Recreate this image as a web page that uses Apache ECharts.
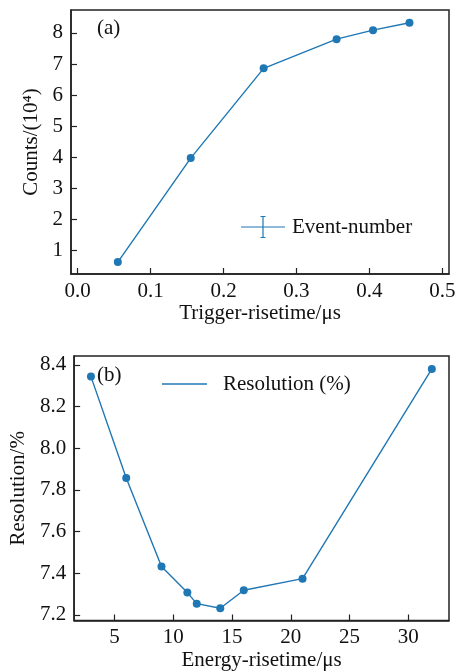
<!DOCTYPE html>
<html><head><meta charset="utf-8">
<script src="https://cdn.jsdelivr.net/npm/echarts@6/dist/echarts.min.js"></script>
<style>html,body{margin:0;padding:0;background:#fff}#c{width:460px;height:672px}</style>
</head><body><div id="c"></div>
<script>
// Panel (a)
const triggerRise = [0.055, 0.155, 0.255, 0.355, 0.405, 0.455];
const eventCounts = [0.62, 3.97, 6.86, 7.80, 8.09, 8.33];
const aXTicks = [0, 0.1, 0.2, 0.3, 0.4, 0.5];
const aYTicks = [1, 2, 3, 4, 5, 6, 7, 8];
// Panel (b)
const energyRise = [3, 6, 9, 11.2, 12, 14, 16, 21, 32];
const resolution = [8.344, 7.857, 7.432, 7.307, 7.254, 7.232, 7.318, 7.374, 8.381];
const bXTicks = [5, 10, 15, 20, 25, 30];
const bYTicks = [7.2, 7.4, 7.6, 7.8, 8.0, 8.2, 8.4];

const FONT = 'Liberation Serif';
const FS = 21;
const C = '#1f77b4';
const chart = echarts.init(document.getElementById('c'), null, {renderer: 'canvas'});
const lbl = (m, fmt) => ({fontFamily: FONT, fontSize: FS, color: '#111', margin: m, formatter: fmt});
const axLine = {show: true, onZero: false, lineStyle: {color: '#222', width: 1.5}};
const tick = (vals) => ({show: true, inside: true, length: 6, lineStyle: {color: '#222', width: 1.2}, customValues: vals});
const nameStyle = {fontFamily: FONT, fontSize: FS, color: '#111'};

chart.setOption({
  animation: false,
  grid: [
    {left: 71, top: 10, width: 378, height: 264, show: true, borderColor: '#222', borderWidth: 1.5},
    {left: 71, top: 356, width: 378, height: 265, show: true, borderColor: '#222', borderWidth: 1.5}
  ],
  xAxis: [
    {type: 'value', gridIndex: 0, min: -0.0092, max: 0.5092, axisLine: axLine, splitLine: {show: false},
     axisTick: tick(aXTicks), axisLabel: Object.assign(lbl(7, v => v.toFixed(1)), {customValues: aXTicks}),
     name: 'Trigger-risetime/μs', nameLocation: 'middle', nameGap: 28, nameTextStyle: nameStyle},
    {type: 'value', gridIndex: 1, min: 1.57, max: 33.46, axisLine: axLine, splitLine: {show: false},
     axisTick: tick(bXTicks), axisLabel: Object.assign(lbl(6, v => String(v)), {customValues: bXTicks}),
     name: 'Energy-risetime/μs', nameLocation: 'middle', nameGap: 29.5, nameTextStyle: nameStyle}
  ],
  yAxis: [
    {type: 'value', gridIndex: 0, min: 0.237, max: 8.74, axisLine: axLine, splitLine: {show: false},
     axisTick: tick(aYTicks), axisLabel: Object.assign(lbl(8, v => String(v)), {customValues: aYTicks}),
     name: 'Counts/(10⁴)', nameLocation: 'middle', nameGap: 25.5, nameTextStyle: nameStyle},
    {type: 'value', gridIndex: 1, min: 7.173, max: 8.443, axisLine: axLine, splitLine: {show: false},
     axisTick: tick(bYTicks), axisLabel: Object.assign(lbl(8, v => v.toFixed(1)), {customValues: bYTicks}),
     name: 'Resolution/%', nameLocation: 'middle', nameGap: 38.5, nameTextStyle: nameStyle}
  ],
  legend: [
    {left: 241, top: 216, itemWidth: 44, itemHeight: 22, padding: 0,
     textStyle: {fontFamily: FONT, fontSize: FS, color: '#111', padding: [0, 0, 0, 2]},
     data: [{name: 'Event-number', icon: 'path://M0,10.4 H44 V11.6 H0 Z M21.4,0 H22.6 V22 H21.4 Z M19.5,0 H24.5 V1 H19.5 Z M19.5,21 H24.5 V22 H19.5 Z'}]},
    {left: 162, top: 373.5, itemWidth: 45, itemHeight: 1.4, padding: 0,
     textStyle: {fontFamily: FONT, fontSize: FS, color: '#111', padding: [0, 0, 0, 11]},
     data: [{name: 'Resolution (%)', icon: 'rect'}]}
  ],
  graphic: [
    {type: 'text', left: 97, top: 18, style: {text: '(a)', font: '21px "Liberation Serif"', fill: '#111'}},
    {type: 'text', left: 97, top: 365, style: {text: '(b)', font: '21px "Liberation Serif"', fill: '#111'}}
  ],
  series: [
    {name: 'Event-number', type: 'line', xAxisIndex: 0, yAxisIndex: 0, data: triggerRise.map((x, i) => [x, eventCounts[i]]),
     symbol: 'circle', symbolSize: 8, itemStyle: {color: C}, lineStyle: {color: C, width: 1.4}},
    {name: 'Resolution (%)', type: 'line', xAxisIndex: 1, yAxisIndex: 1, data: energyRise.map((x, i) => [x, resolution[i]]),
     symbol: 'circle', symbolSize: 8, itemStyle: {color: C}, lineStyle: {color: C, width: 1.4}}
  ]
});
</script></body></html>
